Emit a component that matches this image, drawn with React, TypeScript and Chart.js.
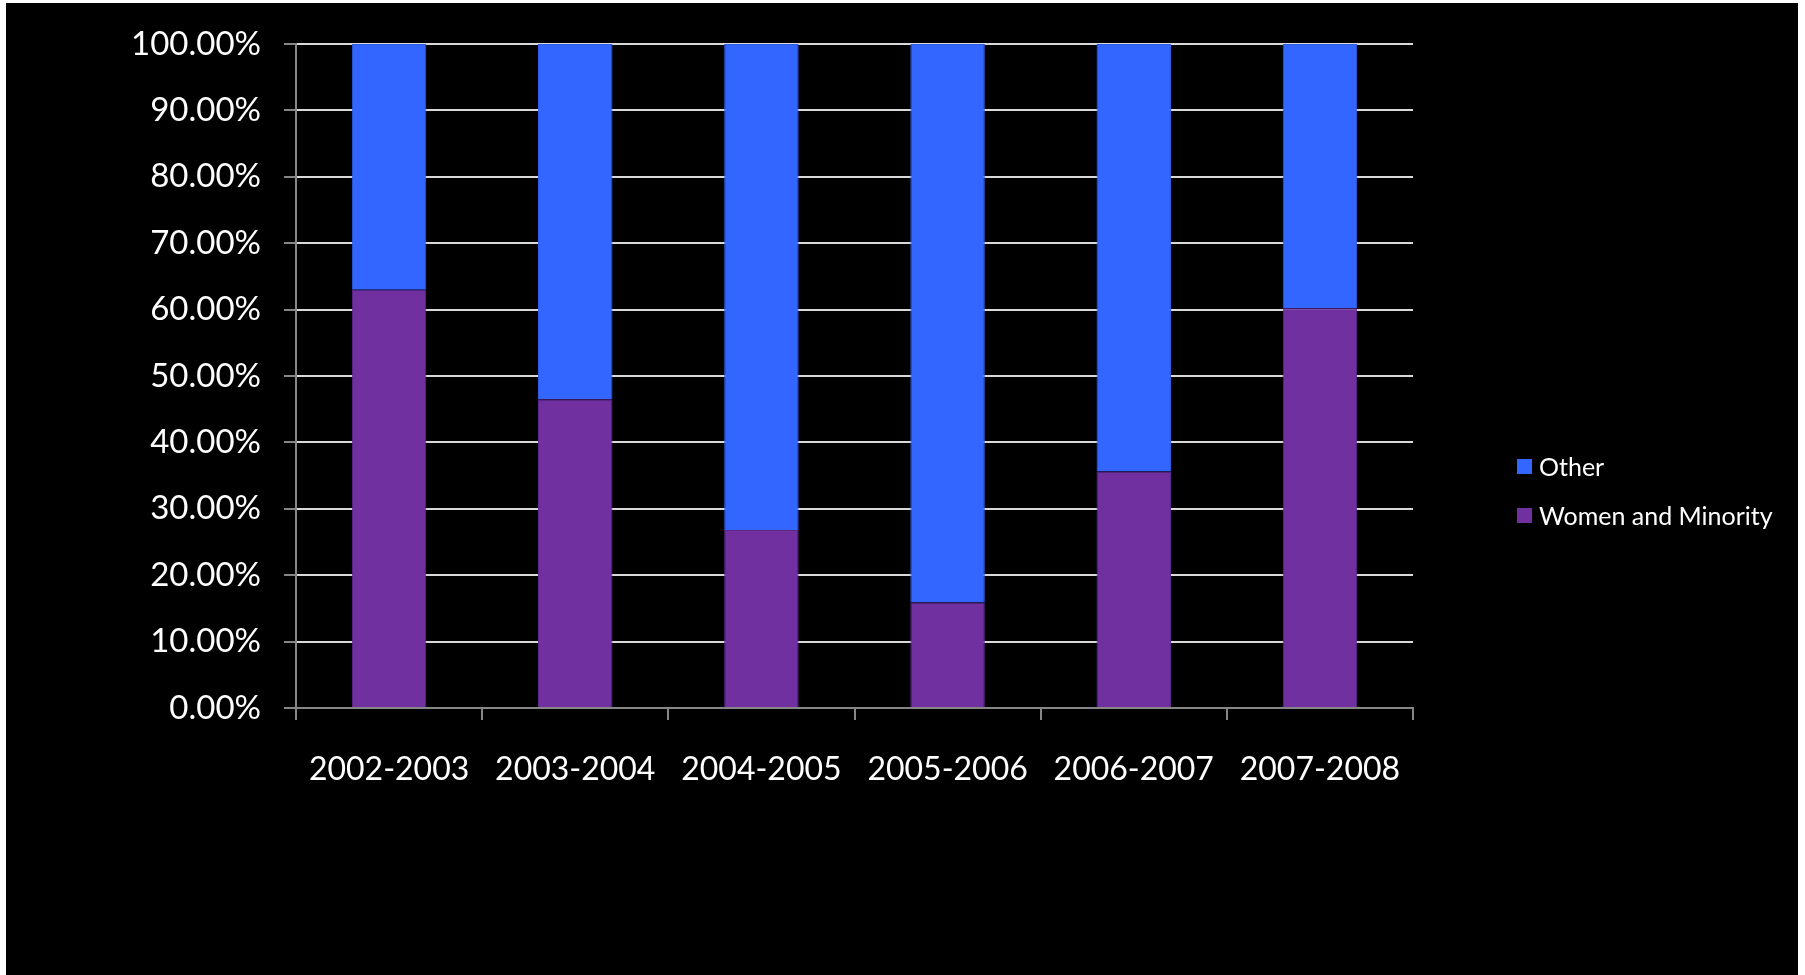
import React, { useEffect, useRef } from "react";
import { Chart, registerables } from "chart.js";

Chart.register(...registerables);

const categories = ["2002-2003", "2003-2004", "2004-2005", "2005-2006", "2006-2007", "2007-2008"];
const womenAndMinority = [63.0, 46.5, 26.8, 15.9, 35.6, 60.2];
const otherShare = [37.0, 53.5, 73.2, 84.1, 64.4, 39.8];
const seriesNames = ["Women and Minority", "Other"];
const seriesColors = ["#7030A0", "#3366FF"];
const seriesBorders = ["#602890", "#2F5EE8"];

const FONT = "Lato, 'Open Sans', sans-serif";

const rightLegend = {
  id: "rightLegend",
  afterDraw(chart: any) {
    const { ctx, chartArea } = chart;
    const items = chart.data.datasets
      .map((d: any) => ({ label: d.label, color: d.backgroundColor }))
      .reverse();
    const box = 15;
    const gap = 49;
    const x = chartArea.right + 104;
    const cy0 = chart.height / 2 + 2 - ((items.length - 1) * gap) / 2;
    ctx.save();
    ctx.font = `25px ${FONT}`;
    ctx.textBaseline = "middle";
    ctx.textAlign = "left";
    items.forEach((it: any, i: number) => {
      const cy = cy0 + i * gap;
      ctx.fillStyle = it.color;
      ctx.fillRect(x, cy - box / 2, box, box);
      ctx.fillStyle = "#ffffff";
      ctx.fillText(it.label, x + box + 7, cy + 1);
    });
    ctx.restore();
  },
};

export default function App() {
  const ref = useRef<HTMLCanvasElement | null>(null);

  useEffect(() => {
    if (!ref.current) return;
    Chart.defaults.font.family = FONT;
    const chart = new Chart(ref.current, {
      type: "bar",
      data: {
        labels: categories,
        datasets: [
          {
            label: seriesNames[0],
            data: womenAndMinority,
            backgroundColor: seriesColors[0],
            borderColor: seriesBorders[0],
            borderWidth: 1,
            barPercentage: 0.4,
            categoryPercentage: 1.0,
          },
          {
            label: seriesNames[1],
            data: otherShare,
            backgroundColor: seriesColors[1],
            borderColor: seriesBorders[1],
            borderWidth: 1,
            barPercentage: 0.4,
            categoryPercentage: 1.0,
          },
        ],
      },
      options: {
        responsive: false,
        animation: false,
        layout: { padding: { top: 41, right: 385, bottom: 0, left: 0 } },
        plugins: {
          legend: { display: false },
          tooltip: { enabled: false },
        },
        scales: {
          x: {
            stacked: true,
            grid: {
              display: true,
              drawOnChartArea: false,
              drawTicks: true,
              tickLength: 12,
              tickColor: "#868686",
              lineWidth: 2,
              offset: true,
            },
            border: { display: true, color: "#868686", width: 2 },
            ticks: {
              color: "#ffffff",
              font: { size: 32, family: FONT },
              padding: 30,
              maxRotation: 0,
              autoSkip: false,
            },
            afterFit: (s: any) => {
              s.height = 267;
              s.paddingLeft = 0;
              s.paddingRight = 0;
            },
          },
          y: {
            stacked: true,
            min: 0,
            max: 100,
            ticks: {
              stepSize: 10,
              color: "#ffffff",
              font: { size: 33, family: FONT },
              padding: 23,
              callback: (v: any) => `${Number(v).toFixed(2)}%`,
            },
            grid: {
              color: (c: any) => (c.tick && c.tick.value === 0 ? "rgba(0,0,0,0)" : "#d9d9d9"),
              lineWidth: 2,
              drawTicks: true,
              tickLength: 12,
              tickColor: "#868686",
            },
            border: { display: true, color: "#868686", width: 2 },
            afterFit: (s: any) => {
              s.width = 290;
              s.paddingTop = 0;
              s.paddingBottom = 0;
            },
          },
        },
      },
      plugins: [rightLegend],
    } as any);
    return () => chart.destroy();
  }, []);

  return (
    <div
      style={{
        position: "fixed",
        left: 6,
        top: 3,
        width: 1792,
        height: 972,
        background: "#000000",
      }}
    >
      <canvas ref={ref} width={1792} height={972} style={{ display: "block" }} />
    </div>
  );
}
